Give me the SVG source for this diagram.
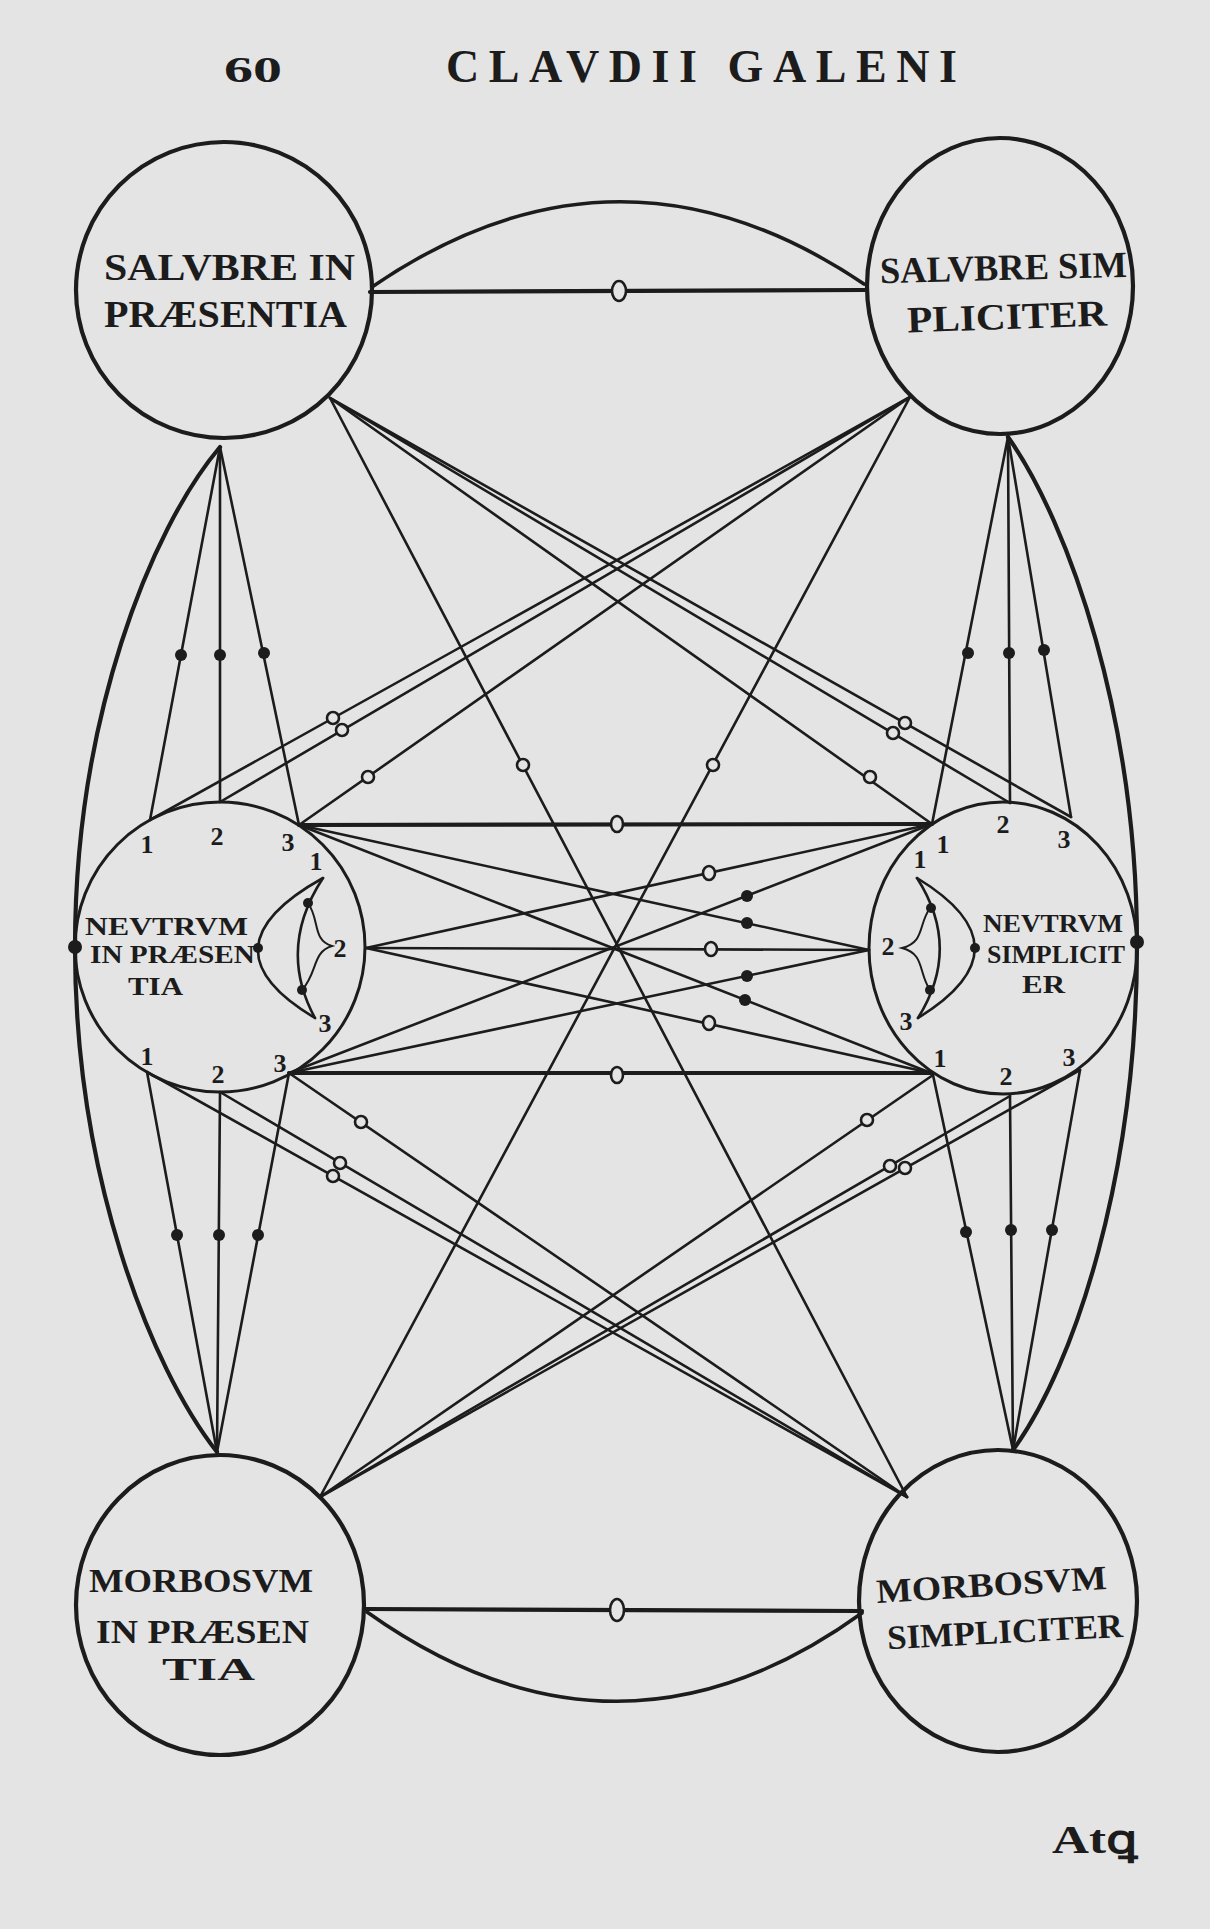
<svg xmlns="http://www.w3.org/2000/svg" width="1210" height="1929" viewBox="0 0 1210 1929">
<style>
.bg{fill:#e4e4e4}
.nd{fill:none;stroke:#1c1c1c;stroke-width:4.2}
.ln{fill:none;stroke:#1c1c1c;stroke-width:2.6;stroke-linecap:round}
.lt{fill:none;stroke:#1c1c1c;stroke-width:4.2;stroke-linecap:round}
.od{fill:#e4e4e4;stroke:#1c1c1c;stroke-width:2.6}
.fd{fill:#1c1c1c}
.tx{font-family:"Liberation Serif","DejaVu Serif",serif;font-weight:bold;fill:#1c1c1c}
.num{font-family:"Liberation Serif","DejaVu Serif",serif;font-weight:bold;fill:#1c1c1c;font-size:26px;text-anchor:middle}
</style>
<rect class="bg" x="0" y="0" width="1210" height="1929"/>

<g id="header">
<text class="tx" x="224" y="82" font-size="36" textLength="58" lengthAdjust="spacingAndGlyphs">60</text>
<text class="tx" x="446" y="82" font-size="46" textLength="511" lengthAdjust="spacing">CLAVDII GALENI</text>
</g>

<g id="connectors">
<!-- top pair -->
<path class="lt" d="M370,292 L866,290"/>
<path class="ln" style="stroke-width:3.6" d="M372,287 Q618,118 864,284"/>
<ellipse class="od" cx="619" cy="291" rx="7" ry="10"/>
<!-- bottom pair -->
<path class="lt" d="M366,1609 L862,1611"/>
<path class="ln" style="stroke-width:3.6" d="M367,1612 Q617,1790 862,1613"/>
<ellipse class="od" cx="617" cy="1610" rx="7" ry="11"/>
<!-- big side arcs -->
<path class="lt" d="M220,447 C150,530 75,720 75,947 C75,1174 150,1367 217,1452"/>
<path class="lt" d="M1008,437 C1070,525 1137,720 1137,945 C1137,1174 1075,1365 1013,1450"/>
<circle class="fd" cx="75" cy="947" r="7"/>
<circle class="fd" cx="1137" cy="942" r="7"/>
<!-- TL bottom fan -->
<path class="ln" d="M220,447 L150,820"/>
<path class="ln" d="M220,447 L220,802"/>
<path class="ln" d="M220,447 L299,825"/>
<circle class="fd" cx="181" cy="655" r="6"/>
<circle class="fd" cx="220" cy="655" r="6"/>
<circle class="fd" cx="264" cy="653" r="6"/>
<!-- TR bottom fan -->
<path class="ln" d="M1008,437 L932,824"/>
<path class="ln" d="M1008,437 L1010,803"/>
<path class="ln" d="M1008,437 L1071,817"/>
<circle class="fd" cx="968" cy="653" r="6"/>
<circle class="fd" cx="1009" cy="653" r="6"/>
<circle class="fd" cx="1044" cy="650" r="6"/>
<!-- BL top fan -->
<path class="ln" d="M217,1452 L147,1072"/>
<path class="ln" d="M217,1452 L220,1092"/>
<path class="ln" d="M217,1452 L289,1073"/>
<circle class="fd" cx="177" cy="1235" r="6"/>
<circle class="fd" cx="219" cy="1235" r="6"/>
<circle class="fd" cx="258" cy="1235" r="6"/>
<!-- BR top fan -->
<path class="ln" d="M1013,1450 L933,1075"/>
<path class="ln" d="M1013,1450 L1010,1096"/>
<path class="ln" d="M1013,1450 L1080,1070"/>
<circle class="fd" cx="966" cy="1232" r="6"/>
<circle class="fd" cx="1011" cy="1230" r="6"/>
<circle class="fd" cx="1052" cy="1230" r="6"/>
<!-- TL lower-right bundle -->
<path class="ln" d="M330,398 L1071,817"/>
<path class="ln" d="M330,398 L1010,803"/>
<path class="ln" d="M330,398 L932,824"/>
<path class="ln" d="M330,398 L907,1497"/>
<circle class="od" cx="905" cy="723" r="6"/>
<circle class="od" cx="893" cy="733" r="6"/>
<circle class="od" cx="870" cy="777" r="6"/>
<circle class="od" cx="523" cy="765" r="6"/>
<!-- TR lower-left bundle -->
<path class="ln" d="M910,397 L150,820"/>
<path class="ln" d="M910,397 L220,802"/>
<path class="ln" d="M910,397 L299,825"/>
<path class="ln" d="M910,397 L320,1497"/>
<circle class="od" cx="333" cy="718" r="6"/>
<circle class="od" cx="342" cy="730" r="6"/>
<circle class="od" cx="368" cy="777" r="6"/>
<circle class="od" cx="713" cy="765" r="6"/>
<!-- BL upper-right bundle -->
<path class="ln" d="M320,1497 L933,1075"/>
<path class="ln" d="M320,1497 L1010,1096"/>
<path class="ln" d="M320,1497 L1080,1070"/>
<circle class="od" cx="867" cy="1120" r="6"/>
<circle class="od" cx="890" cy="1166" r="6"/>
<circle class="od" cx="905" cy="1168" r="6"/>
<!-- BR upper-left bundle -->
<path class="ln" d="M907,1497 L147,1072"/>
<path class="ln" d="M907,1497 L220,1092"/>
<path class="ln" d="M907,1497 L289,1073"/>
<circle class="od" cx="333" cy="1176" r="6"/>
<circle class="od" cx="340" cy="1163" r="6"/>
<circle class="od" cx="361" cy="1122" r="6"/>
<!-- middle web -->
<path class="lt" d="M299,825 L932,824"/>
<path class="ln" d="M299,825 L869,950"/>
<path class="ln" d="M299,825 L931,1073"/>
<path class="ln" d="M366,948 L932,824"/>
<path class="ln" d="M366,948 L869,950"/>
<path class="ln" d="M366,948 L931,1073"/>
<path class="ln" d="M289,1073 L932,824"/>
<path class="ln" d="M289,1073 L869,950"/>
<path class="lt" d="M289,1073 L931,1073"/>
<ellipse class="od" cx="617" cy="824" rx="6" ry="8"/>
<ellipse class="od" cx="617" cy="1075" rx="6" ry="8"/>
<circle class="fd" cx="747" cy="923" r="6"/>
<circle class="fd" cx="745" cy="1000" r="6"/>
<circle class="fd" cx="747" cy="896" r="6"/>
<circle class="fd" cx="747" cy="976" r="6"/>
<ellipse class="od" cx="709" cy="873" rx="6" ry="7"/>
<ellipse class="od" cx="711" cy="949" rx="6" ry="7"/>
<ellipse class="od" cx="709" cy="1023" rx="6" ry="7"/>
</g>

<g id="salubre-in-praesentia">
<ellipse class="nd" cx="224" cy="290" rx="148" ry="148"/>
<text class="tx" x="104" y="280" font-size="37" textLength="251" lengthAdjust="spacingAndGlyphs">SALVBRE IN</text>
<text class="tx" x="104" y="327" font-size="37" textLength="243" lengthAdjust="spacingAndGlyphs">PRÆSENTIA</text>
</g>

<g id="salubre-simpliciter">
<ellipse class="nd" cx="1000" cy="286" rx="133" ry="148"/>
<text class="tx" x="880" y="280" font-size="37" textLength="247" lengthAdjust="spacingAndGlyphs" transform="rotate(-1.5 1003 270)">SALVBRE SIM</text>
<text class="tx" x="907" y="329" font-size="37" textLength="200" lengthAdjust="spacingAndGlyphs" transform="rotate(-2 1007 318)">PLICITER</text>
</g>

<g id="neutrum-in-praesentia">
<circle class="nd" cx="220" cy="947" r="145" style="stroke-width:3"/>
<path class="ln" d="M323,878 Q197,948 315,1018"/>
<path class="ln" d="M323,878 Q277,948 315,1018"/>
<path class="ln" style="stroke-width:2" d="M308,903 C320,920 312,940 332,946 C312,952 318,972 302,990"/>
<circle class="fd" cx="308" cy="903" r="5"/>
<circle class="fd" cx="302" cy="990" r="5"/>
<circle class="fd" cx="258" cy="948" r="5"/>
<text class="tx" x="85" y="935" font-size="26" textLength="163" lengthAdjust="spacingAndGlyphs">NEVTRVM</text>
<text class="tx" x="90" y="963" font-size="26" textLength="165" lengthAdjust="spacingAndGlyphs">IN PRÆSEN</text>
<text class="tx" x="128" y="995" font-size="26" textLength="55" lengthAdjust="spacingAndGlyphs">TIA</text>
<text class="num" x="147" y="853">1</text>
<text class="num" x="217" y="845">2</text>
<text class="num" x="288" y="851">3</text>
<text class="num" x="316" y="870" font-size="22">1</text>
<text class="num" x="340" y="957">2</text>
<text class="num" x="325" y="1032">3</text>
<text class="num" x="147" y="1065">1</text>
<text class="num" x="218" y="1083">2</text>
<text class="num" x="280" y="1072">3</text>
</g>

<g id="neutrum-simpliciter">
<ellipse class="nd" cx="1003" cy="948" rx="134" ry="146" style="stroke-width:3"/>
<path class="ln" d="M917,878 Q1032,948 918,1018"/>
<path class="ln" d="M917,878 Q962,948 918,1018"/>
<path class="ln" style="stroke-width:2" d="M930,908 C918,925 925,942 902,948 C925,954 918,972 930,990"/>
<circle class="fd" cx="931" cy="908" r="5"/>
<circle class="fd" cx="930" cy="990" r="5"/>
<circle class="fd" cx="975" cy="948" r="5"/>
<text class="tx" x="983" y="932" font-size="26" textLength="140" lengthAdjust="spacingAndGlyphs">NEVTRVM</text>
<text class="tx" x="987" y="963" font-size="26" textLength="138" lengthAdjust="spacingAndGlyphs">SIMPLICIT</text>
<text class="tx" x="1022" y="993" font-size="26" textLength="43" lengthAdjust="spacingAndGlyphs">ER</text>
<text class="num" x="943" y="853">1</text>
<text class="num" x="1003" y="833">2</text>
<text class="num" x="1064" y="848">3</text>
<text class="num" x="920" y="868" font-size="22">1</text>
<text class="num" x="888" y="955">2</text>
<text class="num" x="906" y="1030">3</text>
<text class="num" x="940" y="1067">1</text>
<text class="num" x="1006" y="1085">2</text>
<text class="num" x="1069" y="1066">3</text>
</g>

<g id="morbosum-in-praesentia">
<ellipse class="nd" cx="220" cy="1605" rx="144" ry="150"/>
<text class="tx" x="89" y="1592" font-size="34" textLength="224" lengthAdjust="spacingAndGlyphs">MORBOSVM</text>
<text class="tx" x="96" y="1643" font-size="34" textLength="213" lengthAdjust="spacingAndGlyphs">IN PRÆSEN</text>
<text class="tx" x="162" y="1680" font-size="31" textLength="93" lengthAdjust="spacingAndGlyphs">TIA</text>
</g>

<g id="morbosum-simpliciter">
<ellipse class="nd" cx="998" cy="1601" rx="139" ry="151"/>
<text class="tx" x="876" y="1596" font-size="34" textLength="231" lengthAdjust="spacingAndGlyphs" transform="rotate(-3.5 991 1585)">MORBOSVM</text>
<text class="tx" x="887" y="1643" font-size="34" textLength="236" lengthAdjust="spacingAndGlyphs" transform="rotate(-3 1005 1632)">SIMPLICITER</text>
</g>

<g id="catchword">
<text class="tx" x="1052" y="1853" font-size="40" textLength="86" lengthAdjust="spacingAndGlyphs">Atꝗ</text>
</g>
</svg>
